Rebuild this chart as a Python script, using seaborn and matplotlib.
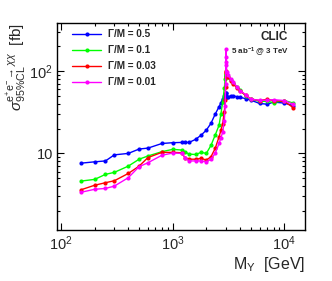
import numpy as np
import pandas as pd
import matplotlib
matplotlib.use('Agg')
import matplotlib.pyplot as plt
import matplotlib.ticker as ticker
import seaborn as sns

# Mass points (GeV) shared by all width hypotheses
mass = [150, 200, 250, 300, 400, 500, 600, 800, 1000, 1200, 1300, 1400, 1600, 1800,
        2000, 2200, 2400, 2600, 2700, 2800, 2900, 2950, 2975, 2990, 3000, 3010, 3025,
        3050, 3150, 3300, 3500, 3750, 4000, 4500, 5000, 6000, 7000, 8000, 10000, 12000]

# 95% CL cross-section limits in fb
xs_05 = [7.6, 7.9, 8.1, 9.6, 10.0, 11.3, 11.6, 13.2, 13.5, 13.6, 13.6, 13.6, 14.8, 16.7,
         19.2, 23.2, 30.0, 37.0, 41.0, 46.0, 50.0, 52.0, 54.0, 54.5, 50.0, 48.5, 48.0,
         48.0, 49.0, 50.0, 50.0, 49.0, 48.0, 46.5, 44.5, 40.5, 39.7, 42.0, 41.0, 38.0]
xs_01 = [4.6, 4.83, 5.56, 5.88, 7.0, 8.5, 9.3, 10.5, 11.2, 11.0, 10.4, 9.8, 9.7, 10.3,
         10.0, 12.5, 16.7, 22.0, 30.0, 42.0, 62.0, 80.0, 88.0, 92.0, 90.0, 89.0, 88.0,
         87.0, 84.0, 79.0, 71.0, 65.0, 59.0, 50.0, 45.5, 43.0, 43.0, 41.6, 44.0, 41.0]
xs_003 = [3.6, 4.1, 4.4, 4.65, 5.7, 7.0, 8.9, 10.3, 10.3, 10.2, 8.7, 8.5, 8.5, 8.7,
          8.3, 9.1, 11.5, 15.9, 19.0, 23.0, 32.0, 45.0, 65.0, 85.0, 100.0, 97.0, 94.0,
          90.0, 84.0, 77.0, 70.0, 63.0, 58.0, 51.0, 46.0, 44.0, 45.5, 44.0, 43.0, 36.0]
xs_001 = [3.36, 3.66, 3.75, 4.0, 5.06, 6.9, 7.7, 9.5, 10.1, 10.0, 8.8, 8.1, 8.1, 8.1,
          7.9, 8.5, 10.0, 13.2, 15.5, 18.0, 25.0, 38.0, 70.0, 130.0, 184.0, 150.0, 118.0,
          98.0, 89.0, 81.0, 73.0, 65.0, 58.0, 52.0, 45.5, 44.4, 44.4, 45.0, 44.0, 39.5]

labels = ['Γ/M = 0.5', 'Γ/M = 0.1', 'Γ/M = 0.03', 'Γ/M = 0.01']
colors = ['#0000ff', '#00ff00', '#ff0000', '#ff00ff']

df = pd.concat([
    pd.DataFrame({'mass': mass, 'xs': ys, 'width': lab})
    for ys, lab in zip([xs_05, xs_01, xs_003, xs_001], labels)
])

sns.set_style('ticks')
plt.rcParams['font.family'] = ['Liberation Sans', 'DejaVu Sans']
plt.rcParams['mathtext.fontset'] = 'custom'
plt.rcParams['mathtext.rm'] = 'Liberation Sans'
plt.rcParams['mathtext.it'] = 'Liberation Sans:italic'
plt.rcParams['mathtext.bf'] = 'Liberation Sans:bold'

fig = plt.figure(figsize=(3.32, 2.81), dpi=100)
ax = fig.add_axes([57 / 332, 51 / 281, 248 / 332, 207 / 281])

sns.lineplot(data=df, x='mass', y='xs', hue='width', hue_order=labels,
             palette=dict(zip(labels, colors)), marker='o', markersize=3.0,
             markeredgewidth=0, linewidth=1.0, estimator=None, sort=False, ax=ax)

ax.set_xscale('log')
ax.set_yscale('log')
ax.set_xlim(92, 15300)
ax.set_ylim(1.17, 386)

ax.xaxis.set_major_locator(ticker.FixedLocator([100, 1000, 10000]))
ax.xaxis.set_major_formatter(ticker.FixedFormatter([r'$10^{2}$', r'$10^{3}$', r'$10^{4}$']))
ax.xaxis.set_minor_locator(ticker.LogLocator(base=10, subs=np.arange(2, 10), numticks=20))
ax.xaxis.set_minor_formatter(ticker.NullFormatter())
ax.yaxis.set_major_locator(ticker.FixedLocator([10, 100]))
ax.yaxis.set_major_formatter(ticker.FixedFormatter(['10', r'$10^{2}$']))
ax.yaxis.set_minor_locator(ticker.LogLocator(base=10, subs=np.arange(2, 10), numticks=20))
ax.yaxis.set_minor_formatter(ticker.NullFormatter())

ax.tick_params(which='both', direction='in', top=True, right=True, width=0.8, color='black')
ax.tick_params(which='major', length=5, labelsize=10.5, pad=3)
ax.tick_params(which='minor', length=2.5)
for s in ax.spines.values():
    s.set_linewidth(1.0)
    s.set_color('black')

ax.set_xlabel('')
ax.set_ylabel('')
fig.text(305 / 332, 16 / 281, r'M$_{\rm Y}$  [GeV]', ha='right', va='center', fontsize=11.5)
fig.text(17 / 332, 258 / 281,
         r'$\sigma^{\mathrm{e^{+}e^{-}}\rightarrow\chi\chi}_{\mathrm{95\%CL}}$  [fb]',
         rotation=90, ha='center', va='top', fontsize=11)

ax.text(0.93, 0.93, 'CLIC', transform=ax.transAxes, ha='right', va='center',
        fontsize=8.5, fontweight='bold')
ax.text(0.935, 0.86, r'5 ab$^{\mathbf{-1}}$ @ 3 TeV', transform=ax.transAxes, ha='right',
        va='center', fontsize=5.8, fontweight='bold')

leg = ax.legend(loc='upper left', bbox_to_anchor=(0.062, 0.97), frameon=False,
                borderpad=0, borderaxespad=0, handlelength=2.9, handletextpad=0.7,
                labelspacing=0.6, prop={'size': 7.2, 'weight': 'bold'})

fig.savefig('out.png', dpi=100)
